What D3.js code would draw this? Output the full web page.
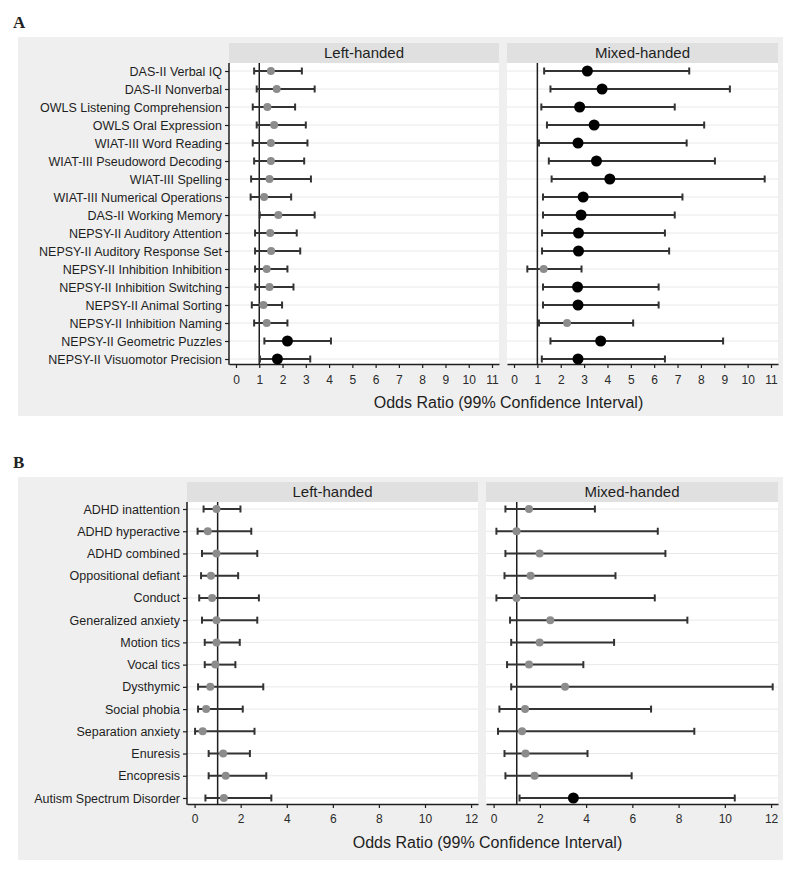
<!DOCTYPE html>
<html><head><meta charset="utf-8">
<script src="https://cdn.jsdelivr.net/npm/d3@7"></script>
<style>
body{margin:0;background:#fff;}
svg{display:block;}
text{font-family:"Liberation Sans",Arial,sans-serif;}
</style>
</head><body>
<svg id="chart" width="800" height="875"></svg>
<script>
// ---------- DATA ----------
const groups = ["Left-handed", "Mixed-handed"];
const axisTitle = "Odds Ratio (99% Confidence Interval)";

// Panel A: cognitive tests
const cognitiveTests = [
  "DAS-II Verbal IQ", "DAS-II Nonverbal", "OWLS Listening Comprehension", "OWLS Oral Expression",
  "WIAT-III Word Reading", "WIAT-III Pseudoword Decoding", "WIAT-III Spelling", "WIAT-III Numerical Operations",
  "DAS-II Working Memory", "NEPSY-II Auditory Attention", "NEPSY-II Auditory Response Set",
  "NEPSY-II Inhibition Inhibition", "NEPSY-II Inhibition Switching", "NEPSY-II Animal Sorting",
  "NEPSY-II Inhibition Naming", "NEPSY-II Geometric Puzzles", "NEPSY-II Visuomotor Precision"
];
const cogLeftOR    = [1.50, 1.75, 1.35, 1.64, 1.50, 1.50, 1.44, 1.21, 1.82, 1.47, 1.51, 1.32, 1.44, 1.18, 1.32, 2.21, 1.78];
const cogLeftLower = [0.78, 0.89, 0.72, 0.89, 0.72, 0.78, 0.65, 0.63, 1.02, 0.82, 0.82, 0.82, 0.83, 0.68, 0.78, 1.22, 1.03];
const cogLeftUpper = [2.83, 3.38, 2.54, 3.00, 3.07, 2.93, 3.22, 2.37, 3.38, 2.61, 2.76, 2.21, 2.47, 1.98, 2.21, 4.08, 3.19];
const cogLeftSig   = [0, 0, 0, 0, 0, 0, 0, 0, 0, 0, 0, 0, 0, 0, 0, 1, 1];

const cogMixedOR    = [3.14, 3.77, 2.81, 3.43, 2.74, 3.53, 4.10, 2.96, 2.87, 2.76, 2.76, 1.27, 2.72, 2.74, 2.27, 3.71, 2.74];
const cogMixedLower = [1.29, 1.56, 1.17, 1.41, 1.07, 1.49, 1.61, 1.24, 1.24, 1.20, 1.20, 0.57, 1.24, 1.24, 1.07, 1.56, 1.19];
const cogMixedUpper = [7.50, 9.24, 6.88, 8.14, 7.39, 8.60, 10.73, 7.21, 6.88, 6.46, 6.64, 2.89, 6.19, 6.19, 5.10, 8.95, 6.46];
const cogMixedSig   = [1, 1, 1, 1, 1, 1, 1, 1, 1, 1, 1, 0, 1, 1, 0, 1, 1];

const ticksA = [0, 1, 2, 3, 4, 5, 6, 7, 8, 9, 10, 11];

// Panel B: psychiatric diagnoses
const disorders = [
  "ADHD inattention", "ADHD hyperactive", "ADHD combined", "Oppositional defiant", "Conduct",
  "Generalized anxiety", "Motion tics", "Vocal tics", "Dysthymic", "Social phobia",
  "Separation anxiety", "Enuresis", "Encopresis", "Autism Spectrum Disorder"
];
const disLeftOR    = [0.95, 0.57, 0.95, 0.71, 0.76, 0.95, 0.95, 0.90, 0.68, 0.50, 0.35, 1.24, 1.35, 1.27];
const disLeftLower = [0.39, 0.13, 0.32, 0.28, 0.20, 0.32, 0.44, 0.44, 0.15, 0.15, 0.02, 0.61, 0.61, 0.47];
const disLeftUpper = [1.99, 2.46, 2.72, 1.89, 2.79, 2.72, 1.96, 1.77, 2.98, 2.09, 2.60, 2.40, 3.11, 3.33];
const disLeftSig   = [0, 0, 0, 0, 0, 0, 0, 0, 0, 0, 0, 0, 0, 0];

const disMixedOR    = [1.53, 0.99, 1.99, 1.60, 0.99, 2.45, 1.99, 1.53, 3.09, 1.36, 1.23, 1.38, 1.77, 3.45];
const disMixedLower = [0.51, 0.12, 0.51, 0.47, 0.12, 0.71, 0.76, 0.58, 0.76, 0.25, 0.19, 0.47, 0.51, 1.12];
const disMixedUpper = [4.38, 7.10, 7.43, 5.27, 6.97, 8.38, 5.21, 3.88, 12.07, 6.81, 8.68, 4.06, 5.97, 10.43];
const disMixedSig   = [0, 0, 0, 0, 0, 0, 0, 0, 0, 0, 0, 0, 0, 1];

const ticksB = [0, 2, 4, 6, 8, 10, 12];

// ---------- BUILD ----------
const figures = [
  {
    letter: "A", letterX: 13, letterY: 28,
    bg: {x: 18, y: 37, w: 765, h: 379},
    stripTop: 43, plotTop: 63, plotBottom: 364,
    panels: [{x0: 229, x1: 499}, {x0: 507, x1: 778}],
    rowRange: [71, 359],
    domain: [-0.3, 11.3],
    ticks: ticksA,
    categories: cognitiveTests,
    series: [
      {or: cogLeftOR, lo: cogLeftLower, hi: cogLeftUpper, sig: cogLeftSig},
      {or: cogMixedOR, lo: cogMixedLower, hi: cogMixedUpper, sig: cogMixedSig}
    ],
    tickLabelDy: 19, titleY: 408
  },
  {
    letter: "B", letterX: 13, letterY: 468,
    bg: {x: 18, y: 477, w: 765, h: 383},
    stripTop: 482, plotTop: 502, plotBottom: 804,
    panels: [{x0: 187, x1: 478}, {x0: 486, x1: 778}],
    rowRange: [509, 798],
    domain: [-0.33, 12.3],
    ticks: ticksB,
    categories: disorders,
    series: [
      {or: disLeftOR, lo: disLeftLower, hi: disLeftUpper, sig: disLeftSig},
      {or: disMixedOR, lo: disMixedLower, hi: disMixedUpper, sig: disMixedSig}
    ],
    tickLabelDy: 18, titleY: 848
  }
];

const svg = d3.select("#chart");
const ink = "#1e1e1e";

figures.forEach(fig => {
  const g = svg.append("g");
  g.append("text").attr("x", fig.letterX).attr("y", fig.letterY)
    .style("font-family", "'Liberation Serif','Times New Roman',serif")
    .style("font-size", "17px").style("font-weight", "bold").attr("fill", "#222").text(fig.letter);

  g.append("rect").attr("x", fig.bg.x).attr("y", fig.bg.y)
    .attr("width", fig.bg.w).attr("height", fig.bg.h).attr("fill", "#efefef");

  const y = d3.scalePoint().domain(fig.categories).range(fig.rowRange);

  fig.panels.forEach((p, pi) => {
    const s = fig.series[pi];
    const x = d3.scaleLinear().domain(fig.domain).range([p.x0, p.x1]);
    const pg = g.append("g");

    // strip
    pg.append("rect").attr("x", p.x0).attr("y", fig.stripTop)
      .attr("width", p.x1 - p.x0).attr("height", fig.plotTop - fig.stripTop).attr("fill", "#e0e0e0");
    pg.append("text").attr("x", (p.x0 + p.x1) / 2).attr("y", (fig.stripTop + fig.plotTop) / 2 + 5)
      .attr("text-anchor", "middle").style("font-size", "15px").attr("fill", ink).text(groups[pi]);

    // plot background
    pg.append("rect").attr("x", p.x0).attr("y", fig.plotTop)
      .attr("width", p.x1 - p.x0).attr("height", fig.plotBottom - fig.plotTop).attr("fill", "#fff");

    // gridlines
    pg.selectAll("line.grid").data(fig.categories).join("line").attr("class", "grid")
      .attr("x1", p.x0).attr("x2", p.x1)
      .attr("y1", d => y(d)).attr("y2", d => y(d))
      .attr("stroke", "#e8e8e8").attr("stroke-width", 1);

    // reference line at OR = 1
    pg.append("line").attr("x1", x(1)).attr("x2", x(1))
      .attr("y1", fig.plotTop).attr("y2", fig.plotBottom)
      .attr("stroke", ink).attr("stroke-width", 1.5);

    // x axis
    const xAxis = d3.axisBottom(x).tickValues(fig.ticks).tickSize(4).tickSizeOuter(0).tickPadding(fig.tickLabelDy - 12);
    const ax = pg.append("g").attr("transform", `translate(0,${fig.plotBottom})`).call(xAxis);
    ax.select(".domain").attr("stroke", ink).attr("stroke-width", 1.5);
    ax.selectAll(".tick line").attr("stroke", ink).attr("stroke-width", 1.2);
    ax.selectAll(".tick text").style("font-size", "12px").style("font-family", "'Liberation Sans',Arial,sans-serif").attr("fill", "#2a2a2a");

    // y axis on first panel
    if (pi === 0) {
      pg.append("line").attr("x1", p.x0).attr("x2", p.x0)
        .attr("y1", fig.plotTop).attr("y2", fig.plotBottom + 0.75)
        .attr("stroke", ink).attr("stroke-width", 1.5);
      const yAxis = d3.axisLeft(y).tickSize(4).tickPadding(3);
      const ay = pg.append("g").attr("transform", `translate(${p.x0},0)`).call(yAxis);
      ay.select(".domain").remove();
      ay.selectAll(".tick line").attr("stroke", ink).attr("stroke-width", 1.2);
      ay.selectAll(".tick text").style("font-size", "12.5px").style("font-family", "'Liberation Sans',Arial,sans-serif").attr("fill", "#1e1e1e");
    }

    // error bars
    const rows = fig.categories.map((c, i) => ({c, or: s.or[i], lo: s.lo[i], hi: s.hi[i], sig: s.sig[i]}));
    const eb = pg.append("g");
    eb.selectAll("line.ci").data(rows).join("line").attr("class", "ci")
      .attr("x1", d => x(d.lo)).attr("x2", d => x(d.hi))
      .attr("y1", d => y(d.c)).attr("y2", d => y(d.c))
      .attr("stroke", "#333").attr("stroke-width", 2);
    ["lo", "hi"].forEach(k => {
      eb.selectAll("line.cap" + k).data(rows).join("line").attr("class", "cap" + k)
        .attr("x1", d => x(d[k])).attr("x2", d => x(d[k]))
        .attr("y1", d => y(d.c) - 3.5).attr("y2", d => y(d.c) + 3.5)
        .attr("stroke", "#333").attr("stroke-width", 2);
    });
    eb.selectAll("circle").data(rows).join("circle")
      .attr("cx", d => x(d.or)).attr("cy", d => y(d.c))
      .attr("r", d => d.sig ? 5.5 : 4)
      .attr("fill", d => d.sig ? "#000" : "#8c8c8c");
  });

  const mid = (fig.panels[0].x0 + fig.panels[1].x1) / 2 + 5;
  g.append("text").attr("x", mid).attr("y", fig.titleY).attr("text-anchor", "middle")
    .style("font-size", "16px").attr("fill", ink).text(axisTitle);
});
</script>
</body></html>
